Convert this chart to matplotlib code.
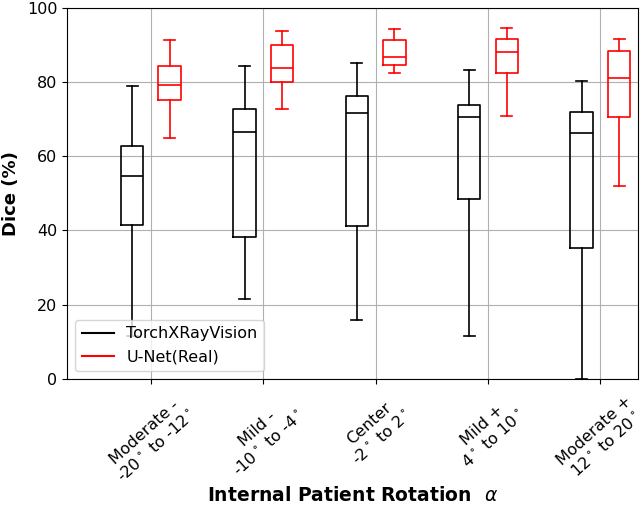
import numpy as np
import matplotlib
matplotlib.use("Agg")
import matplotlib.pyplot as plt
from matplotlib.lines import Line2D

# categories (tick labels)
categories = ["Moderate -\n-20$^\\circ$ to -12$^\\circ$",
              "Mild -\n-10$^\\circ$ to -4$^\\circ$",
              "Center\n-2$^\\circ$ to 2$^\\circ$",
              "Mild +\n4$^\\circ$ to 10$^\\circ$",
              "Moderate +\n12$^\\circ$ to 20$^\\circ$"]

# TorchXRayVision box stats
txv_low = [11.5, 21.5, 15.7, 11.4, 0.0]
txv_q1 = [41.4, 38.1, 41.1, 48.3, 35.1]
txv_med = [54.6, 66.5, 71.6, 70.4, 66.2]
txv_q3 = [62.7, 72.6, 76.3, 73.7, 72.0]
txv_high = [78.8, 84.2, 85.0, 83.2, 80.2]

# U-Net(Real) box stats
unet_low = [64.9, 72.8, 82.5, 70.9, 52.0]
unet_q1 = [75.1, 80.0, 84.4, 82.3, 70.5]
unet_med = [79.2, 83.8, 86.6, 88.1, 80.9]
unet_q3 = [84.3, 89.9, 91.3, 91.6, 88.2]
unet_high = [91.3, 93.8, 94.2, 94.4, 91.6]


def make_stats(lo, q1, med, q3, hi):
    return [dict(whislo=a, q1=b, med=c, q3=d, whishi=e, fliers=[])
            for a, b, c, d, e in zip(lo, q1, med, q3, hi)]


fig = plt.figure(figsize=(6.41, 5.05), dpi=100)
ax = fig.add_axes([0.105, 0.25, 0.89, 0.735])

x = np.arange(1, len(categories) + 1)
off = 0.167

def style(color):
    return dict(boxprops=dict(color=color, lw=1.2),
                whiskerprops=dict(color=color, lw=1.2),
                capprops=dict(color=color, lw=1.2),
                medianprops=dict(color=color, lw=1.2))

ax.bxp(make_stats(txv_low, txv_q1, txv_med, txv_q3, txv_high),
       positions=x - off, widths=0.2, showfliers=False, manage_ticks=False,
       **style('black'))
ax.bxp(make_stats(unet_low, unet_q1, unet_med, unet_q3, unet_high),
       positions=x + off, widths=0.2, showfliers=False, manage_ticks=False,
       **style('red'))

ax.set_xlim(0.256, 5.333)
ax.set_ylim(0, 100)
ax.set_xticks(x)
ax.set_xticklabels(categories, rotation=42, fontsize=11.5, ha='center')
ax.tick_params(axis='x', pad=7)
ax.tick_params(axis='y', labelsize=11.5)
ax.grid(True, color='#b0b0b0', lw=0.8)
ax.set_axisbelow(True)

ax.set_ylabel("Dice (%)", fontsize=13, fontweight='bold')
ax.yaxis.set_label_coords(-0.083, 0.5)
ax.set_xlabel("Internal Patient Rotation  $\\alpha$", fontsize=13.5,
              fontweight='bold')
ax.xaxis.set_label_coords(0.5, -0.29)

handles = [Line2D([], [], color='black', lw=1.5),
           Line2D([], [], color='red', lw=1.5)]
ax.legend(handles, ["TorchXRayVision", "U-Net(Real)"], loc='lower left',
          fontsize=11.5)

fig.savefig("out.png", dpi=100)
